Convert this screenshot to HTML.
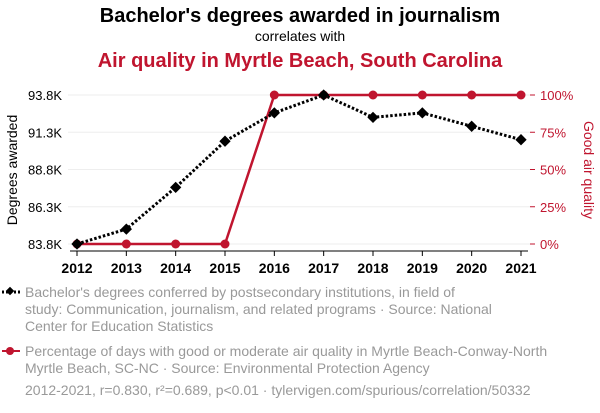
<!DOCTYPE html>
<html><head><meta charset="utf-8"><style>
body{margin:0;background:#fff;font-family:"Liberation Sans",sans-serif}
svg text{font-family:"Liberation Sans",sans-serif}
</style></head><body>
<svg id="c" width="600" height="408" xmlns="http://www.w3.org/2000/svg">
<text x="300" y="22" text-anchor="middle" font-size="20" font-weight="bold" fill="#000">Bachelor's degrees awarded in journalism</text>
<text x="300" y="41" text-anchor="middle" font-size="14" fill="#000">correlates with</text>
<text x="300" y="67" text-anchor="middle" font-size="20" font-weight="bold" fill="#c0152f">Air quality in Myrtle Beach, South Carolina</text>
<g id="grid"></g>
<g id="axes"></g>
<g id="marks"></g>
<text transform="translate(17,170) rotate(-90)" text-anchor="middle" font-size="14" fill="#000">Degrees awarded</text>
<text transform="translate(584,170) rotate(90)" text-anchor="middle" font-size="14" fill="#c0152f">Good air quality</text>
<g>
<line x1="2" y1="292" x2="20" y2="292" stroke="#000" stroke-width="3" stroke-dasharray="2,2"/>
<rect x="7" y="288" width="6" height="6" transform="rotate(45 10 291)" fill="#000"/>
<text font-size="14" fill="#999"><tspan x="25" y="297">Bachelor's degrees conferred by postsecondary institutions, in field of</tspan><tspan x="25" y="314">study: Communication, journalism, and related programs · Source: National</tspan><tspan x="25" y="331">Center for Education Statistics</tspan></text>
</g>
<g>
<line x1="2" y1="351" x2="20" y2="351" stroke="#c0152f" stroke-width="2"/>
<circle cx="10" cy="351" r="4" fill="#c0152f"/>
<text font-size="14" fill="#999"><tspan x="25" y="356">Percentage of days with good or moderate air quality in Myrtle Beach-Conway-North</tspan><tspan x="25" y="373">Myrtle Beach, SC-NC · Source: Environmental Protection Agency</tspan></text>
</g>
<text x="25" y="395" font-size="14" fill="#999">2012-2021, r=0.830, r²=0.689, p&lt;0.01 · tylervigen.com/spurious/correlation/50332</text>
</svg>
<script>
const years=[2012,2013,2014,2015,2016,2017,2018,2019,2020,2021];
const degrees=[83.8,84.8,87.6,90.7,92.6,93.8,92.3,92.6,91.7,90.8];
const air=[0,0,0,0,100,100,100,100,100,100];
const leftTicks=[83.8,86.3,88.8,91.3,93.8];
const leftLabels=["83.8K","86.3K","88.8K","91.3K","93.8K"];
const rightTicks=[0,25,50,75,100];
const NS="http://www.w3.org/2000/svg";
const x=y=>77+(y-2012)*(521-77)/9;
const yl=v=>244-(v-83.8)*(244-95)/10;
const yr=v=>244-v*(244-95)/100;
function mk(t,a,p){const e=document.createElementNS(NS,t);for(const k in a)e.setAttribute(k,a[k]);if(p)p.appendChild(e);return e;}
const grid=document.getElementById('grid'),axes=document.getElementById('axes'),marks=document.getElementById('marks');
leftTicks.forEach((v,i)=>{
 const g=mk('line',{x1:68,x2:530,y1:yl(v),y2:yl(v),stroke:'#eee','stroke-width':1},grid);
 
 
 const t=mk('text',{x:62,y:yl(v)+5,'text-anchor':'end','font-size':13,fill:'#000'},axes);t.textContent=leftLabels[i];
 
 
});
rightTicks.forEach(v=>{
 mk('line',{x1:530,x2:535,y1:yr(v),y2:yr(v),stroke:'#c0152f'},axes);
 const t=mk('text',{x:540,y:yr(v)+5,'font-size':13,fill:'#c0152f'},axes);t.textContent=v+'%';
 
 
});
years.forEach(y=>{
 mk('line',{x1:x(y),x2:x(y),y1:251,y2:256,stroke:'#000'},axes);
 const t=mk('text',{x:x(y),y:273,'text-anchor':'middle','font-size':14,'font-weight':'bold',fill:'#000'},axes);t.textContent=y;
 
 
});
const ax=mk('line',{x1:70,x2:528,y1:251,y2:251,stroke:'#000'},axes);


const rl=mk('polyline',{points:years.map((y,i)=>x(y)+','+yr(air[i])).join(' '),fill:'none',stroke:'#c0152f','stroke-width':2.5},marks);


const bl=mk('polyline',{points:years.map((y,i)=>x(y)+','+yl(degrees[i])).join(' '),fill:'none',stroke:'#000','stroke-width':3,'stroke-dasharray':'2.5,2'},marks);


years.forEach((y,i)=>{
 const c=mk('circle',{cx:x(y),cy:yr(air[i]),r:4.5,fill:'#c0152f'},marks);
 
 
});
years.forEach((y,i)=>{
 const cx=x(y),cy=yl(degrees[i]);
 const d=mk('rect',{x:cx-4,y:cy-4,width:8,height:8,fill:'#000',transform:`rotate(45 ${cx} ${cy})`},marks);
 
 
});
</script>
</body></html>
